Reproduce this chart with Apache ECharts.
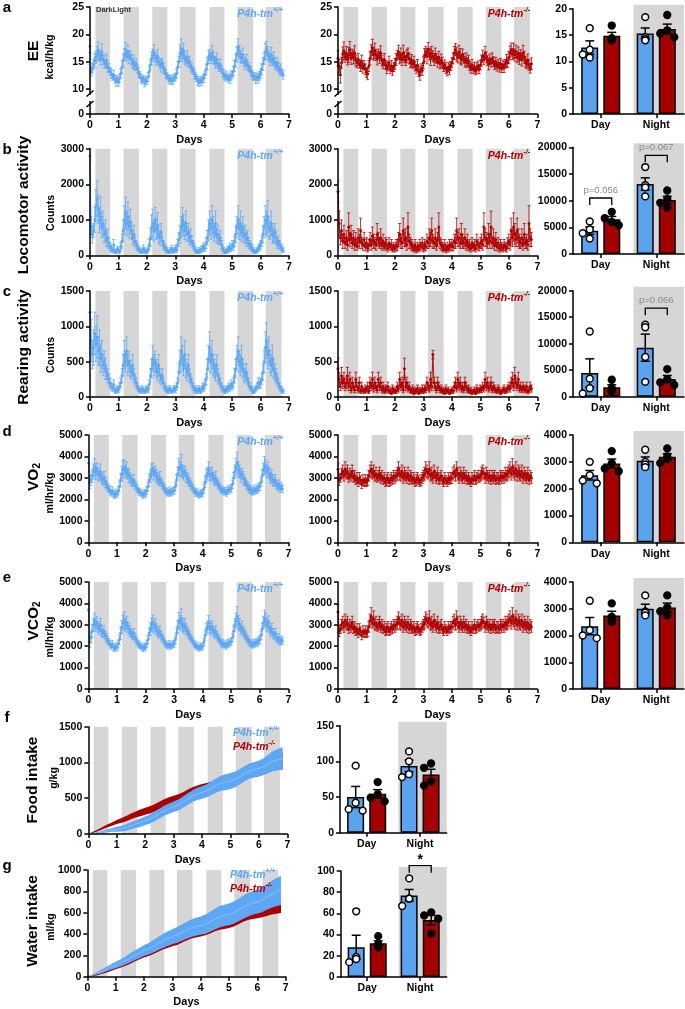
<!DOCTYPE html>
<html><head><meta charset="utf-8">
<script src="https://cdn.jsdelivr.net/npm/echarts@6.0.0/dist/echarts.min.js"></script>
<style>html,body{margin:0;padding:0;background:#fff;}#chart{width:685px;height:1009px;}</style>
</head><body><div id="chart"></div>
<script>
// ---------------- DATA ----------------
const GROUPS = ['Day', 'Night'];
const DARK_PHASES = [[0.19,0.71],[1.18,1.72],[2.19,2.72],[3.16,3.71],[4.2,4.73],[5.19,5.74],[6.18,6.74]];
// hourly time series (index = hour)
const EE_WT = [
17.8,13.2,13.8,14.5,15.2,15.8,16.4,17.0,16.2,15.6,16.8,15.4,15.0,14.6,15.2,14.0,13.8,13.2,12.8,12.2,12.6,11.8,11.4,11.9,
11.2,12.0,12.8,14.0,15.2,16.4,17.2,16.0,16.8,15.8,16.2,15.4,14.6,15.0,14.2,14.6,13.6,13.0,12.6,12.0,11.6,11.9,11.2,11.6,
11.4,12.2,13.2,14.4,15.6,16.2,16.8,15.8,15.4,16.0,15.0,14.6,14.2,14.8,13.8,13.4,12.8,12.4,12.0,11.7,11.9,11.5,11.8,12.0,
12.2,12.8,14.0,15.0,16.6,17.4,16.2,17.0,15.6,15.2,15.8,14.8,15.0,14.2,13.8,13.4,12.8,12.4,12.0,11.5,11.2,11.6,11.4,11.8,
12.0,12.6,13.6,14.6,15.8,16.2,15.6,16.6,15.8,15.2,14.8,15.4,14.6,14.0,14.4,13.6,13.0,12.6,12.2,12.5,11.9,12.2,11.8,12.4,
12.6,13.2,14.2,15.2,16.4,17.6,16.8,16.0,15.6,16.2,15.0,14.6,15.2,14.4,14.0,13.6,13.2,12.6,12.2,12.4,11.8,12.2,12.0,12.4,
12.8,13.6,14.6,15.6,16.8,17.4,16.6,16.0,15.4,16.2,15.2,15.6,14.8,14.2,14.6,14.0,13.4,13.6,13.0,12.6];
const EE_WT_SEM = [
1.2,0.8,0.9,1.0,1.3,1.1,1.4,1.6,1.0,1.2,1.5,0.9,1.1,0.8,1.2,0.9,0.8,0.7,0.9,0.6,0.8,0.7,0.9,0.6,
0.7,0.8,0.9,1.1,1.2,1.0,1.4,0.9,1.3,1.1,0.8,1.0,0.9,1.2,0.8,1.0,0.7,0.9,0.6,0.8,0.7,0.6,0.8,0.7,
0.6,0.8,1.0,0.9,1.2,1.1,1.3,0.9,1.0,1.2,0.8,0.9,1.1,0.8,0.9,0.7,0.8,0.6,0.7,0.8,0.6,0.7,0.8,0.6,
0.7,0.9,1.1,1.0,1.5,1.8,1.2,1.4,1.0,0.9,1.2,0.8,1.0,0.9,0.8,0.7,0.9,0.7,0.6,0.8,0.7,0.6,0.8,0.7,
0.8,0.7,0.9,1.1,1.2,1.0,0.9,1.3,1.1,0.8,1.0,1.2,0.9,0.8,1.0,0.7,0.8,0.9,0.7,0.8,0.6,0.7,0.8,0.9,
0.7,0.9,1.0,1.2,1.4,1.6,1.2,1.1,0.9,1.3,0.8,1.0,1.1,0.9,0.8,0.7,0.9,0.8,0.7,0.6,0.8,0.7,0.9,0.8,
0.9,1.0,1.2,1.1,1.5,1.3,1.2,1.0,1.1,1.4,0.9,1.2,1.0,0.8,1.1,0.9,0.8,1.0,0.7,0.8];
const EE_KO = [
15.6,14.2,12.6,14.8,16.4,17.0,15.8,16.6,15.4,16.2,17.2,15.6,16.4,15.8,16.6,15.2,14.8,15.4,14.6,14.2,15.0,13.8,14.4,13.6,
13.0,12.8,14.2,15.6,16.8,17.6,16.4,17.0,16.2,15.6,16.4,15.8,16.6,15.2,14.6,15.4,14.4,13.8,14.2,14.8,13.6,14.2,13.4,14.0,
14.6,15.4,16.2,16.8,15.6,16.2,15.4,16.6,15.8,15.2,16.0,16.4,15.6,14.8,15.2,14.6,15.0,14.2,13.6,14.4,13.2,12.6,13.8,13.4,
14.8,16.2,16.8,16.0,17.2,16.4,15.8,16.6,16.0,15.4,16.2,15.6,15.0,15.8,14.6,15.2,14.8,14.0,14.4,13.8,13.2,14.0,13.6,14.2,
14.8,15.6,16.6,17.2,16.4,15.8,16.8,16.0,15.4,16.2,15.6,15.0,15.4,14.8,15.2,14.2,13.8,14.4,13.6,14.0,13.4,13.8,14.2,13.6,
14.4,15.2,16.0,15.4,16.6,15.8,15.2,14.6,15.4,14.8,15.6,15.0,14.4,14.8,14.2,14.6,14.0,14.6,13.8,14.4,14.0,14.6,15.2,14.8,
15.8,16.6,17.2,16.4,17.0,16.2,16.8,15.8,16.4,15.6,16.2,15.4,16.6,15.8,15.0,14.6,15.2,14.4,13.8,14.6];
const EE_KO_SEM = [
1.4,1.2,1.5,1.0,1.3,1.6,0.9,1.2,1.0,1.4,1.5,1.1,0.9,1.2,1.3,1.0,0.9,1.1,0.8,1.0,1.2,0.9,0.8,1.0,
0.9,1.1,1.0,1.2,1.3,1.5,1.1,1.4,1.0,1.2,0.9,1.1,1.3,1.0,0.9,1.1,0.8,1.0,0.9,1.2,0.8,1.0,0.9,0.8,
1.0,1.1,0.9,1.2,1.0,1.3,1.1,1.4,1.0,0.9,1.2,1.1,1.0,0.9,1.1,0.8,1.0,0.9,0.8,1.0,0.9,1.0,0.8,0.9,
1.1,1.2,1.0,1.4,1.3,1.1,1.5,1.2,1.0,1.1,1.3,0.9,1.0,1.1,0.9,1.2,1.0,0.8,0.9,1.0,0.8,0.9,1.0,0.8,
0.9,1.0,1.2,1.1,1.3,1.0,1.2,1.4,1.0,1.1,0.9,1.0,1.2,0.9,1.0,0.8,0.9,1.0,0.8,0.9,0.8,1.0,0.9,0.8,
0.9,1.0,1.1,0.9,1.2,1.0,0.9,1.1,1.0,0.8,1.0,0.9,0.8,1.0,0.9,0.8,0.9,1.0,0.8,0.9,1.0,0.8,1.1,0.9,
1.1,1.3,1.2,1.0,1.4,1.1,1.2,1.0,1.3,1.1,1.0,1.2,1.4,1.1,1.0,0.9,1.2,1.0,0.9,1.1];
const LOCO_WT = [
2800,800,600,700,1000,1400,1600,1300,1000,1200,800,900,600,700,450,500,350,250,200,150,300,120,100,180,
150,120,250,400,700,1000,1200,900,1100,800,950,700,500,600,400,300,250,200,150,120,100,200,150,120,
100,180,300,500,800,900,700,1000,750,850,600,500,650,400,300,250,180,150,120,100,150,200,120,150,
200,150,300,450,600,800,1000,850,700,900,600,650,500,550,400,300,250,150,120,100,150,120,180,200,
250,200,350,500,700,900,750,1000,800,650,900,550,600,450,500,300,200,150,100,120,180,150,250,200,
300,250,400,600,800,1000,750,900,650,800,550,600,450,500,350,300,250,200,150,100,120,150,200,250,
300,400,600,800,1000,900,1100,800,700,900,600,550,650,500,350,400,300,250,200,150];
const LOCO_WT_SEM = [
200,300,250,200,350,450,500,400,350,450,300,350,250,300,200,250,150,120,100,80,150,60,50,80,
70,60,120,200,300,400,450,350,400,300,350,250,200,250,150,120,100,80,70,60,50,90,70,60,
50,80,150,250,350,400,300,350,300,350,250,200,250,150,120,100,80,70,60,50,70,90,60,70,
90,70,150,200,250,300,350,300,250,350,200,250,200,200,150,120,100,70,60,50,70,60,80,90,
100,90,150,200,300,350,300,400,300,250,350,200,250,150,200,120,90,70,50,60,80,70,100,90,
120,100,150,250,300,400,300,350,250,300,200,250,200,200,150,120,100,90,70,50,60,70,90,100,
120,150,250,300,400,350,450,300,250,350,250,200,250,200,150,150,120,100,90,70];
const LOCO_KO = [
1800,900,500,700,400,600,350,500,300,800,450,600,350,500,300,450,250,500,400,700,350,300,450,250,
350,200,300,450,300,550,400,350,300,600,450,350,500,300,400,250,350,300,200,350,250,300,200,250,
200,300,250,450,600,400,350,700,450,500,300,800,400,350,300,250,200,300,150,250,200,300,250,350,
200,300,250,400,350,500,450,700,400,350,500,300,450,800,350,300,250,200,300,150,250,200,300,250,
300,250,400,350,700,450,500,350,600,400,350,500,300,400,250,300,200,350,250,300,200,400,300,250,
350,400,300,800,500,450,350,600,400,800,350,500,300,450,250,350,200,300,250,200,300,250,200,350,
400,300,700,500,800,600,450,700,500,400,350,500,300,600,350,400,300,900,500,450];
const LOCO_KO_SEM = [
300,350,200,300,200,250,150,200,150,400,200,250,150,200,150,200,100,250,200,350,150,150,200,120,
150,100,150,200,150,250,200,150,150,300,200,150,250,150,200,100,150,150,100,150,100,150,100,120,
100,150,120,200,300,200,150,350,200,250,150,400,200,150,150,120,100,150,80,120,100,150,120,150,
100,150,120,200,150,250,200,350,200,150,250,150,200,400,150,150,120,100,150,80,120,100,150,120,
150,120,200,150,350,200,250,150,300,200,150,250,150,200,120,150,100,150,120,150,100,200,150,120,
150,200,150,400,250,200,150,300,200,450,150,250,150,200,120,150,100,150,120,100,150,120,100,150,
200,150,350,250,400,300,200,350,250,200,150,250,150,300,150,200,150,500,250,200];
const REAR_WT = [
1200,800,600,700,900,750,850,650,700,550,600,450,500,400,350,300,250,200,150,120,180,100,80,120,
100,150,200,300,450,600,500,650,450,500,400,350,450,300,250,200,150,120,100,80,120,100,80,100,
120,100,180,300,400,550,450,500,400,350,450,300,250,300,200,150,120,100,80,120,100,80,100,120,
100,150,200,350,500,650,550,450,600,400,350,450,300,250,200,150,100,120,80,100,120,80,100,150,
120,180,250,400,550,700,500,600,450,400,350,450,300,250,200,150,120,100,80,120,100,150,120,180,
150,200,300,400,550,650,500,450,550,400,350,300,350,250,200,150,120,100,80,100,120,150,200,180,
200,250,350,500,700,800,600,650,500,450,550,400,350,300,250,200,150,120,100,80];
const REAR_WT_SEM = [
100,300,200,250,300,250,300,200,250,200,200,150,150,150,100,100,80,70,50,40,60,40,30,40,
40,50,70,100,150,200,150,200,150,150,120,100,150,100,80,70,50,40,40,30,40,40,30,40,
40,40,60,100,130,180,150,150,130,120,150,100,80,100,70,50,40,40,30,40,40,30,40,40,
40,50,70,120,160,200,180,150,200,130,120,150,100,80,70,50,40,40,30,40,40,30,40,50,
40,60,80,130,180,220,160,200,150,130,120,150,100,80,70,50,40,40,30,40,40,50,40,60,
50,70,100,130,180,200,160,150,180,130,120,100,120,80,70,50,40,40,30,40,40,50,70,60,
70,80,120,160,220,250,200,200,160,150,180,130,120,100,80,70,50,40,40,30];
const REAR_KO = [
400,250,150,300,200,250,150,200,300,150,250,100,200,150,100,250,150,100,200,80,150,100,80,120,
100,150,80,200,150,250,120,200,150,100,250,150,200,100,150,80,120,100,150,80,100,60,120,80,
100,80,150,120,250,150,200,100,400,150,200,120,150,100,80,120,60,100,80,120,60,100,80,120,
80,120,100,200,150,120,250,150,600,200,150,100,200,150,100,120,80,100,60,120,80,100,60,80,
100,80,150,200,120,250,150,200,120,150,100,200,150,100,120,80,100,60,80,100,60,120,80,100,
120,100,150,120,250,150,200,120,150,200,100,150,120,100,80,120,100,60,80,100,120,80,100,120,
150,120,200,250,150,300,200,150,250,120,150,100,150,120,100,150,80,100,150,120];
const REAR_KO_SEM = [
150,100,60,120,80,100,60,80,120,60,100,40,80,60,40,100,60,40,80,30,60,40,30,50,
40,60,30,80,60,100,50,80,60,40,100,60,80,40,60,30,50,40,60,30,40,25,50,30,
40,30,60,50,100,60,80,40,150,60,80,50,60,40,30,50,25,40,30,50,25,40,30,50,
30,50,40,80,60,50,100,60,60,80,60,40,80,60,40,50,30,40,25,50,30,40,25,30,
40,30,60,80,50,100,60,80,50,60,40,80,60,40,50,30,40,25,30,40,25,50,30,40,
50,40,60,50,100,60,80,50,60,80,40,60,50,40,30,50,40,25,30,40,50,30,40,50,
60,50,80,100,60,120,80,60,100,50,60,40,60,50,40,60,30,40,60,50];
const VO2_WT = [
3700,2800,2900,3100,3300,3500,3300,3400,3200,3100,3300,3000,2900,3000,2800,2700,2600,2500,2400,2300,2400,2250,2200,2300,
2250,2400,2600,2900,3200,3400,3500,3300,3400,3200,3100,3000,2900,2800,2900,2700,2600,2500,2400,2350,2300,2250,2200,2300,
2250,2400,2600,2900,3100,3300,3400,3200,3300,3100,3000,2900,3000,2800,2700,2600,2500,2400,2350,2300,2400,2300,2350,2400,
2400,2600,2900,3200,3500,3400,3600,3300,3200,3300,3100,3000,2900,2800,2700,2600,2500,2400,2300,2350,2250,2200,2300,2250,
2300,2500,2800,3100,3200,3400,3200,3100,3200,3000,2900,3000,2800,2700,2600,2500,2400,2450,2350,2400,2300,2450,2400,2500,
2500,2700,3000,3300,3500,3700,3400,3300,3100,3200,3000,2900,2800,2700,2600,2500,2450,2400,2350,2450,2400,2500,2450,2550,
2600,2800,3100,3400,3600,3500,3300,3400,3200,3000,3100,2900,2800,2900,2700,2600,2700,2500,2600,2500];
const VO2_WT_SEM = [
400,300,250,300,350,400,350,300,300,250,350,250,250,300,250,200,200,180,200,150,180,150,160,180,
150,200,250,300,350,400,350,300,350,250,300,250,250,200,250,200,200,180,150,160,150,140,150,160,
150,180,220,300,300,350,300,300,250,300,250,250,300,200,200,180,200,150,160,150,180,150,160,150,
160,200,250,300,400,350,500,300,300,250,300,250,250,200,200,180,180,150,160,150,140,150,160,150,
150,200,250,300,300,350,300,250,300,250,250,300,200,200,180,180,150,160,150,160,150,180,160,170,
170,200,250,300,400,500,350,300,300,250,300,250,200,200,200,180,180,160,150,170,160,180,170,180,
180,200,250,300,400,350,300,350,300,250,300,250,200,250,200,180,200,180,200,180];
const VO2_KO = [
3400,2900,3000,3200,3300,3100,3400,3200,3300,3000,3200,3100,3300,3000,3100,2900,3000,2800,3000,2900,2700,2900,2800,2900,
2800,2900,3100,3300,3400,3200,3300,3100,3200,3000,3100,3200,3000,3100,2900,3000,2800,2900,3000,2800,2900,3000,2900,3100,
3000,3100,3200,3400,3200,3100,3300,3000,3200,3100,3000,3200,2900,3100,3000,2900,3000,2800,2900,3000,2900,2800,2900,3000,
3100,3200,3400,3300,3200,3400,3100,3200,3000,3300,3100,3000,3200,2900,3000,3100,2900,2800,3000,2900,2800,3000,2900,3000,
3000,3200,3300,3100,3400,3200,3000,3200,3100,3000,3200,3000,3100,2900,3000,2900,2800,3000,2900,3100,2900,3000,3100,3000,
3100,3200,3300,3200,3000,3200,3100,3000,3100,2900,3100,3000,3100,2900,3000,3000,2900,3100,3000,3100,3000,3200,3100,3200,
3300,3400,3200,3500,3300,3200,3400,3100,3300,3200,3100,3300,3000,3200,3100,3000,3200,2900,3100,3000];
const VO2_KO_SEM = [
300,250,200,250,300,250,350,250,300,200,250,250,300,200,250,200,250,200,250,200,200,250,200,250,
200,250,250,300,350,250,300,250,300,200,250,300,250,250,200,250,200,250,250,200,250,250,200,250,
250,250,300,350,300,250,300,250,300,250,250,300,200,250,250,200,250,200,250,250,200,200,250,250,
250,300,350,300,250,350,250,300,250,300,250,250,300,200,250,250,200,200,250,200,200,250,200,250,
250,300,300,250,350,300,250,300,250,250,300,250,250,200,250,200,200,250,200,250,200,250,250,200,
250,300,300,250,250,300,250,250,250,200,250,250,250,200,250,250,200,250,250,250,250,300,250,300,
300,350,300,400,300,300,350,250,300,300,250,300,250,300,250,250,300,200,250,250];
const VCO2_WT = [
3700,2200,2400,2700,3000,3200,3000,3100,2900,2800,3000,2700,2600,2700,2500,2400,2300,2200,2100,2000,2100,1950,1900,2000,
1950,2100,2300,2600,2900,3100,3200,3000,3100,2900,2800,2700,2600,2500,2600,2400,2300,2200,2100,2050,2000,1950,1900,2000,
1950,2100,2300,2600,2800,3000,3100,2900,3000,2800,2700,2600,2700,2500,2400,2300,2200,2100,2050,2000,2100,2000,2050,2100,
2100,2300,2600,2900,3200,3100,3300,3000,2900,3000,2800,2700,2600,2500,2400,2300,2200,2100,2000,2050,1950,1900,2000,1950,
2000,2200,2500,2800,2900,3100,2900,2800,2900,2700,2600,2700,2500,2400,2300,2200,2100,2150,2050,2100,2000,2150,2100,2200,
2200,2400,2700,3000,3200,3400,3100,3000,2800,2900,2700,2600,2500,2400,2300,2200,2150,2100,2050,2150,2100,2200,2150,2250,
2300,2500,2800,3100,3300,3200,3000,3100,2900,2700,2800,2600,2500,2600,2400,2300,2400,2200,2300,2250];
const VCO2_WT_SEM = [
350,250,250,300,300,350,300,300,250,250,300,250,200,250,200,200,180,160,180,150,160,140,150,160,
150,180,220,280,300,350,400,300,300,250,250,250,200,200,220,180,180,160,150,150,140,140,150,150,
140,170,200,260,300,320,350,280,300,250,230,220,250,200,180,170,170,150,150,140,160,140,150,150,
150,180,230,280,380,330,450,300,280,300,250,230,220,200,180,170,160,150,140,150,140,130,150,140,
140,170,220,270,280,330,280,260,280,230,220,250,200,180,170,160,150,160,140,150,140,160,150,160,
160,190,240,290,350,450,320,300,260,280,230,220,200,190,180,170,160,150,140,160,150,160,150,170,
170,200,250,300,380,350,300,320,280,240,260,220,200,230,190,170,190,160,180,170];
const VCO2_KO = [
3600,2700,2800,3000,3100,2900,3200,3000,3100,2800,3000,2900,3100,2800,2900,2700,2800,2600,2800,2700,2500,2700,2600,2700,
2600,2700,2900,3200,3400,3100,3300,3000,3100,2900,3000,3100,2900,3000,2800,2900,2700,2800,2900,2700,2800,2900,2800,3000,
2900,3000,3100,3300,3100,3000,3200,2900,3100,3000,2900,3100,2800,3000,2900,2800,2900,2700,2800,2900,2800,2700,2800,2900,
3000,3100,3300,3200,3100,3300,3000,3100,2900,3200,3000,2900,3100,2800,2900,3000,2800,2700,2900,2800,2700,2900,2800,2900,
2900,3100,3200,3000,3300,3100,2900,3100,3000,2900,3100,2900,3000,2800,2900,2800,2700,2900,2800,3000,2800,2900,3000,2900,
3000,3100,3200,3100,2900,3100,3000,2900,3000,2800,3000,2900,3000,2800,2900,2900,2800,3000,2900,3000,2900,3100,3000,3100,
3200,3300,3100,3400,3200,3100,3300,3000,3200,3100,3000,3200,2900,3100,3000,2900,3100,2800,3000,2900];
const VCO2_KO_SEM = [
350,250,200,250,300,250,300,250,300,200,250,250,300,200,250,200,250,200,250,200,200,250,200,250,
200,250,250,300,400,250,350,250,300,200,250,300,250,250,200,250,200,250,250,200,250,250,200,250,
250,250,300,300,300,250,300,250,300,250,250,300,200,250,250,200,250,200,250,250,200,200,250,250,
250,300,300,300,250,350,250,300,250,300,250,250,300,200,250,250,200,200,250,200,200,250,200,250,
250,300,300,250,350,300,250,300,250,250,300,250,250,200,250,200,200,250,200,250,200,250,250,200,
250,300,300,250,250,300,250,250,250,200,250,250,250,200,250,250,200,250,250,250,250,300,250,300,
300,350,300,400,300,300,350,250,300,300,250,300,250,300,250,250,300,200,250,250];
// cumulative intake, one value every 4 h
const FOOD_WT = [0,8,18,30,45,56,65,75,92,115,138,160,185,210,245,285,325,355,380,405,445,490,530,560,580,605,640,680,710,725,740,765,800,845,880,900,915,945,985,1020,1040,1055];
const FOOD_WT_SEM = [0,5,10,15,20,25,35,40,45,50,55,58,60,63,66,68,70,72,74,76,78,80,83,86,88,92,96,100,105,110,112,110,108,106,105,106,108,115,125,140,150,160];
const FOOD_KO = [0,22,50,82,112,138,168,190,215,245,272,295,318,338,365,400,432,458,480,500,530,565,598,622,640,655,672,695,712,725,738,760,795,832,860,875,890,915,950,985,1005,1020];
const FOOD_KO_SEM = [0,8,12,16,20,24,28,32,36,40,43,46,48,50,52,52,53,54,54,55,55,56,56,57,58,58,60,62,64,66,68,70,72,75,78,80,82,86,92,100,110,120];
const WATER_WT = [0,15,32,50,70,90,110,128,150,175,200,222,245,262,285,310,335,355,375,392,412,435,455,468,478,492,515,540,562,575,585,600,625,650,675,690,703,720,748,772,792,808];
const WATER_WT_SEM = [0,6,12,18,22,26,30,34,38,42,46,48,50,55,58,62,66,68,70,74,78,80,82,84,86,90,94,98,100,100,102,104,106,108,110,110,110,115,120,126,132,136];
const WATER_KO = [0,8,20,35,50,68,85,100,118,140,165,185,205,220,240,262,285,300,315,330,350,372,392,402,412,425,442,462,478,486,495,510,532,555,572,582,590,600,615,630,640,648];
const WATER_KO_SEM = [0,4,8,10,12,14,15,16,18,20,22,24,25,26,28,28,30,30,30,32,32,33,34,35,35,36,36,37,38,38,38,39,40,40,40,41,42,44,46,48,50,52];
// individual animals (n=4) per group
const EE_DAY_WT = [16.3,12.2,11.3,10.7], EE_DAY_KO = [16.8,14.4,14.2,14.0];
const EE_NIGHT_WT = [18.4,14.6,14.2,14.0], EE_NIGHT_KO = [18.8,15.9,15.3,14.6];
const LOCO_DAY_WT = [6100,4600,3900,2900], LOCO_DAY_KO = [7900,6700,6000,5400];
const LOCO_NIGHT_WT = [16300,12900,12500,10800], LOCO_NIGHT_KO = [11900,10300,9600,8700];
const REAR_DAY_WT = [12300,3400,1600,600], REAR_DAY_KO = [3200,1600,1300,1000];
const REAR_NIGHT_WT = [13600,13100,7500,2800], REAR_NIGHT_KO = [5200,3300,2700,2200];
const VO2_DAY_WT = [3000,2500,2300,2200], VO2_DAY_KO = [3400,2950,2750,2650];
const VO2_NIGHT_WT = [3450,3000,2900,2800], VO2_NIGHT_KO = [3500,3200,3100,2950];
const VCO2_DAY_WT = [3300,2200,2000,1900], VCO2_DAY_KO = [3200,2700,2600,2500];
const VCO2_NIGHT_WT = [3500,2900,2850,2750], VCO2_NIGHT_KO = [3500,3050,2900,2750];
const FOOD_DAY_WT = [94,42,33,31], FOOD_DAY_KO = [71,54,49,44];
const FOOD_NIGHT_WT = [114,100,82,78], FOOD_NIGHT_KO = [97,91,72,66];
const WATER_DAY_WT = [62,19,17,14], WATER_DAY_KO = [38.5,31,29.5,28];
const WATER_NIGHT_WT = [93,74,74,67], WATER_NIGHT_KO = [61,58,55,41];
// significance annotations (group, bracket level in data units, label)
const LOCO_SIG = [{cat:0, y:10500, label:'p=0.056'}, {cat:1, y:18500, label:'p=0.067'}];
const REAR_SIG = [{cat:1, y:16700, label:'p=0.066'}];
const WATER_SIG = [{cat:1, y:105, label:'*'}];

// ---------------- STYLE / HELPERS ----------------
const FONT = '"Liberation Sans", Arial, Helvetica, sans-serif';
const C_BLUE = '#5DA7F5', C_RED = '#B10000', BAR_BLUE = '#5BA3EF', BAR_RED = '#A40000', BAND = '#D6D6D6';
const BAR_OFF = 11;
const grids = [], xAxes = [], yAxes = [], series = [], graphic = [];
const lineAx = {show:true, onZero:false, lineStyle:{color:'#000', width:1.5}};
const tickAx = {show:true, length:4, lineStyle:{color:'#000', width:1.5}};
const labAx = {color:'#000', fontFamily:FONT, fontWeight:'bold', fontSize:10.5, margin:6};
const numLab = Object.assign({}, labAx, {formatter: v => String(v)});
const mean = a => a.reduce((s,v)=>s+v,0)/a.length;
const sem = a => { const m = mean(a); return Math.sqrt(a.reduce((s,v)=>s+(v-m)*(v-m),0)/(a.length-1))/Math.sqrt(a.length); };

function addGrid(x0,x1,top,bot){ grids.push({left:x0, top:top, width:x1-x0, height:bot-top}); return grids.length-1; }

function timeAxes(g, showX, ymin, ymax, yint, hideMax){
  xAxes.push({gridIndex:g, type:'value', min:0, max:7, interval:1, show:showX, z:10,
    name:'Days', nameLocation:'middle', nameGap:20,
    nameTextStyle:{color:'#000', fontFamily:FONT, fontWeight:'bold', fontSize:11},
    axisLine:lineAx, axisTick:tickAx, axisLabel:numLab, splitLine:{show:false}});
  yAxes.push({gridIndex:g, type:'value', min:ymin, max:ymax, interval:yint, z:10,
    axisLine:lineAx, axisTick:tickAx, axisLabel:Object.assign({}, numLab, hideMax?{showMaxLabel:false}:{}), splitLine:{show:false}});
}
function bands(g, ymin, ymax){
  series.push({type:'custom', xAxisIndex:g, yAxisIndex:g, silent:true, z:1, data:DARK_PHASES.map(d=>[d[0],d[1]]),
    renderItem:(p,api)=>{ const a=api.coord([api.value(0),ymax]); const b=api.coord([api.value(1),ymin]);
      return {type:'rect', shape:{x:a[0], y:a[1], width:b[0]-a[0], height:b[1]-a[1]}, style:{fill:BAND}}; }});
}
function tsSeries(g, vals, sems, color, clip){
  series.push({type:'custom', xAxisIndex:g, yAxisIndex:g, silent:true, z:3, clip:clip,
    data: vals.map((v,i)=>[i/24, v, sems[i]||0]),
    renderItem:(p,api)=>{ const x=api.value(0), v=api.value(1), s=api.value(2);
      const t=api.coord([x,v+s]), b=api.coord([x,v-s]); const st={stroke:color, lineWidth:0.8};
      return {type:'group', children:[
        {type:'line', shape:{x1:t[0],y1:t[1],x2:b[0],y2:b[1]}, style:st},
        {type:'line', shape:{x1:t[0]-1.5,y1:t[1],x2:t[0]+1.5,y2:t[1]}, style:st},
        {type:'line', shape:{x1:b[0]-1.5,y1:b[1],x2:b[0]+1.5,y2:b[1]}, style:st}]}; }});
  series.push({type:'line', xAxisIndex:g, yAxisIndex:g, silent:true, z:4, clip:clip,
    data: vals.map((v,i)=>[i/24, v]), symbol:'circle', symbolSize:3,
    itemStyle:{color:color}, lineStyle:{color:color, width:0.9}});
}
function cumBand(g, m, s, color, lineColor){
  series.push({type:'custom', xAxisIndex:g, yAxisIndex:g, silent:true, z:3, data:[[0,0]],
    renderItem:(p,api)=>{
      const t = i => i*4/24;
      const up = m.map((v,i)=>api.coord([t(i), v+s[i]]));
      const lo = m.map((v,i)=>api.coord([t(i), Math.max(0, v-s[i])])).reverse();
      const ch = [{type:'polygon', shape:{points:up.concat(lo)}, style:{fill:color}}];
      if (lineColor) ch.push({type:'polyline', shape:{points:m.map((v,i)=>api.coord([t(i),v]))}, style:{stroke:lineColor, lineWidth:1, fill:null}});
      return {type:'group', children:ch}; }});
}
function swarm(vals, ppu){
  const order = vals.map((v,i)=>i).sort((a,b)=>vals[b]-vals[a]);
  const placed = [], offs = [];
  const cands = [0,-7,7,-3.5,3.5];
  order.forEach(i=>{
    const y = vals[i]*ppu;
    let done = false;
    for (const c of cands){
      if (placed.every(q=>Math.hypot(q.x-c, q.y-y) >= 7.5)){ offs[i]=c; placed.push({x:c,y:y}); done=true; break; }
    }
    if (!done){ offs[i]=0; placed.push({x:0,y:y}); }
  });
  return offs;
}
function barPanel(x0,x1,top,bot,ymax,yint,groups,sig){
  const g = addGrid(x0,x1,top,bot);
  xAxes.push({gridIndex:g, type:'category', data:GROUPS, z:10, axisLine:lineAx,
    axisTick:Object.assign({}, tickAx, {alignWithLabel:true}), axisLabel:labAx, splitLine:{show:false}});
  yAxes.push({gridIndex:g, type:'value', min:0, max:ymax, interval:yint, z:10,
    axisLine:lineAx, axisTick:tickAx, axisLabel:numLab, splitLine:{show:false}});
  series.push({type:'custom', xAxisIndex:g, yAxisIndex:g, silent:true, z:1, data:[[1,0]],
    renderItem:(p,api)=>{ const c=api.coord([1,ymax]), c0=api.coord([1,0]); const bw=api.size([1,0])[0];
      return {type:'rect', shape:{x:c[0]-bw/2+5, y:c[1]-4, width:bw-5, height:c0[1]-c[1]+4}, style:{fill:BAND}}; }});
  const [dw,dk,nw,nk] = groups;
  series.push({type:'bar', xAxisIndex:g, yAxisIndex:g, silent:true, z:2, barWidth:17, barGap:'30%',
    data:[mean(dw), mean(nw)], itemStyle:{color:BAR_BLUE, borderColor:'#000', borderWidth:1.5}});
  series.push({type:'bar', xAxisIndex:g, yAxisIndex:g, silent:true, z:2, barWidth:17, barGap:'30%',
    data:[mean(dk), mean(nk)], itemStyle:{color:BAR_RED, borderColor:'#000', borderWidth:1.5}});
  const eb = [[0,mean(dw),sem(dw),-1],[0,mean(dk),sem(dk),1],[1,mean(nw),sem(nw),-1],[1,mean(nk),sem(nk),1]];
  series.push({type:'custom', xAxisIndex:g, yAxisIndex:g, silent:true, z:4, data:eb,
    renderItem:(p,api)=>{ const cat=api.value(0), m=api.value(1), s=api.value(2), side=api.value(3);
      const t=api.coord([cat,m+s]), b=api.coord([cat,m-s]); const x=t[0]+side*BAR_OFF; const st={stroke:'#000', lineWidth:1.5};
      return {type:'group', children:[
        {type:'line', shape:{x1:x,y1:t[1],x2:x,y2:b[1]}, style:st},
        {type:'line', shape:{x1:x-4.5,y1:t[1],x2:x+4.5,y2:t[1]}, style:st},
        {type:'line', shape:{x1:x-4.5,y1:b[1],x2:x+4.5,y2:b[1]}, style:st}]}; }});
  const ppu = (bot-top)/ymax; const dots = [];
  [[dw,0,-1,0],[dk,0,1,1],[nw,1,-1,0],[nk,1,1,1]].forEach(([arr,cat,side,kind])=>{
    const offs = swarm(arr, ppu);
    arr.forEach((v,i)=>dots.push([cat, v, side*BAR_OFF+offs[i], kind]));
  });
  series.push({type:'custom', xAxisIndex:g, yAxisIndex:g, silent:true, z:5, data:dots,
    renderItem:(p,api)=>{ const c=api.coord([api.value(0), api.value(1)]); const k=api.value(3);
      return {type:'circle', shape:{cx:c[0]+api.value(2), cy:c[1], r:3.4}, style:{fill:k?'#000':'#fff', stroke:'#000', lineWidth:1.5}}; }});
  if (sig){
    series.push({type:'custom', xAxisIndex:g, yAxisIndex:g, silent:true, z:6, data:sig.map(s=>[s.cat, s.y]),
      renderItem:(p,api)=>{ const a=sig[p.dataIndex]; const c=api.coord([a.cat, a.y]);
        const xl=c[0]-BAR_OFF, xr=c[0]+BAR_OFF, y=c[1]; const star = a.label==='*';
        return {type:'group', children:[
          {type:'polyline', shape:{points:[[xl,y+7],[xl,y],[xr,y],[xr,y+7]]}, style:{stroke:'#000', lineWidth:1.3, fill:null}},
          {type:'text', style:{text:a.label, x:c[0], y:star? y-6 : y-8, align:'center', verticalAlign:'middle',
            fontFamily:FONT, fontSize:star?14:9.5, fontWeight:star?'bold':'normal', fill:star?'#000':'#8a8a8a'}}]}; }});
  }
}

// text helpers
function txt(x,y,text,size,opt){
  opt = opt||{};
  return {type:'text', x:x, y:y, z:100, silent:true, rotation:opt.rot||0,
    style:{text:text, fontFamily:FONT, fontSize:size, fontWeight:opt.weight||'bold', fontStyle:opt.style||'normal',
      fill:opt.color||'#000', align:opt.align||'center', verticalAlign:'middle', textAlign:opt.align||'center', textVerticalAlign:'middle', rich:opt.rich}};
}
function legend(x,y,color,sup,align){
  const base = {fontFamily:FONT, fontWeight:'bold', fontStyle:'italic', fill:color, color:color};
  return txt(x,y,'{m|P4h-tm}{s|'+sup+'}',10.5,{align:align, color:color, rich:{
    m:Object.assign({fontSize:10.5, lineHeight:13, verticalAlign:'bottom'}, base),
    s:Object.assign({fontSize:7, lineHeight:7, verticalAlign:'top'}, base)}});
}
function breakMarks(x0){
  graphic.push({type:'rect', z:100, silent:true, shape:{x:x0-4, y:95, width:8, height:6}, style:{fill:'#fff'}});
  graphic.push({type:'line', z:101, silent:true, shape:{x1:x0-3.5,y1:96.5,x2:x0+3.5,y2:90.5}, style:{stroke:'#000', lineWidth:1.5}});
  graphic.push({type:'line', z:101, silent:true, shape:{x1:x0-3.5,y1:107,x2:x0+3.5,y2:101}, style:{stroke:'#000', lineWidth:1.5}});
}

// ---------------- LAYOUT ----------------
const MID = [338, 537.3];
let g;
// a
g = addGrid(90,289,7,89); timeAxes(g,false,10,25,5); bands(g,10,25); tsSeries(g,EE_WT,EE_WT_SEM,C_BLUE,false);
g = addGrid(90,289,89,114); timeAxes(g,true,0,10,10,true); bands(g,0,10);
g = addGrid(MID[0],MID[1],7,89); timeAxes(g,false,10,25,5); bands(g,10,25); tsSeries(g,EE_KO,EE_KO_SEM,C_RED,false);
g = addGrid(MID[0],MID[1],89,114); timeAxes(g,true,0,10,10,true); bands(g,0,10);
barPanel(573,684,8.7,114,20,5,[EE_DAY_WT,EE_DAY_KO,EE_NIGHT_WT,EE_NIGHT_KO]);
breakMarks(90); breakMarks(MID[0]);
// b
g = addGrid(90,289,148.8,255.5); timeAxes(g,true,0,3000,1000); bands(g,0,3000); tsSeries(g,LOCO_WT,LOCO_WT_SEM,C_BLUE,true);
g = addGrid(MID[0],MID[1],148.8,255.5); timeAxes(g,true,0,3000,1000); bands(g,0,3000); tsSeries(g,LOCO_KO,LOCO_KO_SEM,C_RED,true);
barPanel(573,684,147.3,254,20000,5000,[LOCO_DAY_WT,LOCO_DAY_KO,LOCO_NIGHT_WT,LOCO_NIGHT_KO],LOCO_SIG);
// c
g = addGrid(90,289,291,397); timeAxes(g,true,0,1500,500); bands(g,0,1500); tsSeries(g,REAR_WT,REAR_WT_SEM,C_BLUE,true);
g = addGrid(MID[0],MID[1],291,397); timeAxes(g,true,0,1500,500); bands(g,0,1500); tsSeries(g,REAR_KO,REAR_KO_SEM,C_RED,true);
barPanel(573,684,290.7,396.7,20000,5000,[REAR_DAY_WT,REAR_DAY_KO,REAR_NIGHT_WT,REAR_NIGHT_KO],REAR_SIG);
// d
g = addGrid(88.5,288.3,435,542.3); timeAxes(g,true,0,5000,1000); bands(g,0,5000); tsSeries(g,VO2_WT,VO2_WT_SEM,C_BLUE,true);
g = addGrid(MID[0],MID[1],435,542.3); timeAxes(g,true,0,5000,1000); bands(g,0,5000); tsSeries(g,VO2_KO,VO2_KO_SEM,C_RED,true);
barPanel(573,684,435,542.3,4000,1000,[VO2_DAY_WT,VO2_DAY_KO,VO2_NIGHT_WT,VO2_NIGHT_KO]);
// e
g = addGrid(88.5,288.3,582,689); timeAxes(g,true,0,5000,1000); bands(g,0,5000); tsSeries(g,VCO2_WT,VCO2_WT_SEM,C_BLUE,true);
g = addGrid(MID[0],MID[1],582,689); timeAxes(g,true,0,5000,1000); bands(g,0,5000); tsSeries(g,VCO2_KO,VCO2_KO_SEM,C_RED,true);
barPanel(573,684,582,689,4000,1000,[VCO2_DAY_WT,VCO2_DAY_KO,VCO2_NIGHT_WT,VCO2_NIGHT_KO]);
// f
g = addGrid(88.3,287.3,726.7,834); timeAxes(g,true,0,1500,500); bands(g,0,1500);
cumBand(g,FOOD_KO,FOOD_KO_SEM,'#A80000'); cumBand(g,FOOD_WT,FOOD_WT_SEM,C_BLUE,'#8CC0F8');
barPanel(340,446.7,725.7,832.7,150,50,[FOOD_DAY_WT,FOOD_DAY_KO,FOOD_NIGHT_WT,FOOD_NIGHT_KO]);
// g
g = addGrid(87.3,285.7,870,976.7); timeAxes(g,true,0,1000,200); bands(g,0,1000);
cumBand(g,WATER_KO,WATER_KO_SEM,'#A80000'); cumBand(g,WATER_WT,WATER_WT_SEM,C_BLUE,'#8CC0F8');
barPanel(340.7,446.7,871,977,100,20,[WATER_DAY_WT,WATER_DAY_KO,WATER_NIGHT_WT,WATER_NIGHT_KO],WATER_SIG);

// texts
[['a',8],['b',150],['c',292],['d',432],['e',578],['f',718],['g',866]].forEach(([l,y])=>graphic.push(txt(7,y,l,15)));
const R = Math.PI/2;
graphic.push(txt(34,51,'EE',15.5,{rot:R}));
graphic.push(txt(50,57,'kcal/h/kg',10.5,{rot:R}));
graphic.push(txt(24,205,'Locomotor activity',15.5,{rot:R}));
graphic.push(txt(51,213,'Counts',10.5,{rot:R}));
graphic.push(txt(24,347,'Rearing activity',15.5,{rot:R}));
graphic.push(txt(51,355,'Counts',10.5,{rot:R}));
const subRich = {b:{fontFamily:FONT, fontSize:15.5, fontWeight:'bold', fill:'#000', lineHeight:17, verticalAlign:'top'},
                 u:{fontFamily:FONT, fontSize:10, fontWeight:'bold', fill:'#000', lineHeight:8, verticalAlign:'bottom'}};
graphic.push(txt(34,477,'{b|VO}{u|2}',15.5,{rot:R, rich:subRich}));
graphic.push(txt(50,493,'ml/hr/kg',10.5,{rot:R}));
graphic.push(txt(34,621,'{b|VCO}{u|2}',15.5,{rot:R, rich:subRich}));
graphic.push(txt(50,637,'ml/hr/kg',10.5,{rot:R}));
graphic.push(txt(33,780,'Food intake',15.5,{rot:R}));
graphic.push(txt(54,778,'g/kg',10.5,{rot:R}));
graphic.push(txt(33,921,'Water intake',15.5,{rot:R}));
graphic.push(txt(51,927,'ml/kg',10.5,{rot:R}));
graphic.push(txt(96,10,'DarkLight',7.5,{align:'left', color:'#333'}));
[13,155,297,441,588].forEach(y=>{ graphic.push(legend(283,y,C_BLUE,'+/+','right')); graphic.push(legend(530,y,C_RED,'-/-','right')); });
graphic.push(legend(233,732,C_BLUE,'+/+','left')); graphic.push(legend(233,746,C_RED,'-/-','left'));
graphic.push(legend(230,874,C_BLUE,'+/+','left')); graphic.push(legend(230,888,C_RED,'-/-','left'));

const chart = echarts.init(document.getElementById('chart'), null, {renderer:'canvas'});
chart.setOption({animation:false, grid:grids, xAxis:xAxes, yAxis:yAxes, series:series, graphic:{elements:graphic}});
</script></body></html>
